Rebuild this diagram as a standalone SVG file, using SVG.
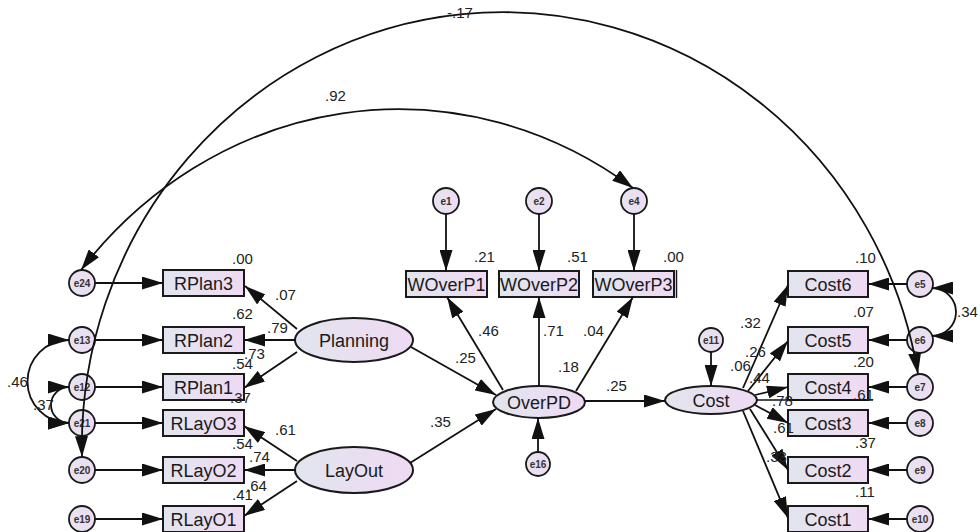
<svg xmlns="http://www.w3.org/2000/svg" width="980" height="532" viewBox="0 0 980 532">
<style>
.n{stroke:#1a1a1a;stroke-width:2;fill:url(#g)}
.c{stroke:#1a1a1a;stroke-width:1.8;fill:url(#gc)}
.t{font-family:"Liberation Sans",Arial,sans-serif;font-size:18px;fill:#1a1a1a;text-anchor:middle}
.et{font-family:"Liberation Sans",Arial,sans-serif;font-size:10px;font-weight:bold;fill:#333;text-anchor:middle}
.l{font-family:"Liberation Sans",Arial,sans-serif;font-size:15px;fill:#222}
.a{stroke:#111;stroke-width:1.8;fill:none;marker-end:url(#ah)}
.d{stroke:#111;stroke-width:1.8;fill:none;marker-start:url(#ah);marker-end:url(#ah)}
</style>
<defs>
<linearGradient id="g" x1="0" y1="0" x2="1" y2="0">
<stop offset="0" stop-color="#e1e5ee"/><stop offset="1" stop-color="#efdaf3"/>
</linearGradient>
<linearGradient id="gc" x1="0" y1="0" x2="1" y2="0">
<stop offset="0" stop-color="#e6e3f0"/><stop offset="1" stop-color="#eedcf2"/>
</linearGradient>
<marker id="ah" markerUnits="userSpaceOnUse" markerWidth="21" markerHeight="13" refX="21" refY="6.5" orient="auto-start-reverse">
<path d="M0,0 L21,6.5 L0,13 z" fill="#111"/>
</marker>
</defs>
<rect width="980" height="532" fill="#fff"/>

<g id="RPlan3"><rect class="n" x="163" y="270" width="81" height="26"/><text class="t" x="203.5" y="289.5">RPlan3</text></g>
<g id="RPlan2"><rect class="n" x="163" y="327" width="81" height="26"/><text class="t" x="203.5" y="346.5">RPlan2</text></g>
<g id="RPlan1"><rect class="n" x="163" y="374" width="81" height="26"/><text class="t" x="203.5" y="393.5">RPlan1</text></g>
<g id="RLayO3"><rect class="n" x="163" y="410" width="81" height="26"/><text class="t" x="203.5" y="429.5">RLayO3</text></g>
<g id="RLayO2"><rect class="n" x="163" y="457" width="81" height="26"/><text class="t" x="203.5" y="476.5">RLayO2</text></g>
<g id="RLayO1"><rect class="n" x="163" y="506" width="81" height="26"/><text class="t" x="203.5" y="525.5">RLayO1</text></g>

<g id="WOverP1"><rect class="n" x="406" y="271" width="81" height="26"/><text class="t" x="446.5" y="290.5">WOverP1</text></g>
<g id="WOverP2"><rect class="n" x="499" y="271" width="80" height="26"/><text class="t" x="539" y="290.5">WOverP2</text></g>
<g id="WOverP3"><rect class="n" x="593" y="271" width="81" height="26"/><line x1="676.5" y1="270" x2="676.5" y2="298" stroke="#1a1a1a" stroke-width="1.5"/><text class="t" x="633.5" y="290.5">WOverP3</text></g>

<g id="Cost6"><rect class="n" x="788" y="271" width="80" height="26"/><text class="t" x="828" y="290.5">Cost6</text></g>
<g id="Cost5"><rect class="n" x="788" y="327" width="80" height="26"/><text class="t" x="828" y="346.5">Cost5</text></g>
<g id="Cost4"><rect class="n" x="788" y="374" width="80" height="26"/><text class="t" x="828" y="393.5">Cost4</text></g>
<g id="Cost3"><rect class="n" x="788" y="410" width="80" height="26"/><text class="t" x="828" y="429.5">Cost3</text></g>
<g id="Cost2"><rect class="n" x="788" y="457" width="80" height="26"/><text class="t" x="828" y="476.5">Cost2</text></g>
<g id="Cost1"><rect class="n" x="788" y="506" width="80" height="26"/><text class="t" x="828" y="525.5">Cost1</text></g>

<g id="Planning"><ellipse class="n" cx="354" cy="340" rx="59" ry="22"/><text class="t" x="354" y="346.5">Planning</text></g>
<g id="LayOut"><ellipse class="n" cx="354" cy="470" rx="59" ry="23"/><text class="t" x="354" y="476.5">LayOut</text></g>
<g id="OverPD"><ellipse class="n" cx="539" cy="402" rx="46" ry="16"/><text class="t" x="539" y="408.5">OverPD</text></g>
<g id="Cost"><ellipse class="n" cx="711" cy="400" rx="46" ry="14"/><text class="t" x="711" y="406.5">Cost</text></g>

<g id="e24"><circle class="c" cx="82" cy="283" r="13"/><text class="et" x="82" y="286.5">e24</text></g>
<g id="e13"><circle class="c" cx="82" cy="340" r="13"/><text class="et" x="82" y="343.5">e13</text></g>
<g id="e12"><circle class="c" cx="82" cy="387" r="13"/><text class="et" x="82" y="390.5">e12</text></g>
<g id="e21"><circle class="c" cx="82" cy="423" r="13"/><text class="et" x="82" y="426.5">e21</text></g>
<g id="e20"><circle class="c" cx="82" cy="470" r="13"/><text class="et" x="82" y="473.5">e20</text></g>
<g id="e19"><circle class="c" cx="82" cy="519" r="13"/><text class="et" x="82" y="522.5">e19</text></g>
<g id="e1"><circle class="c" cx="446" cy="201" r="13"/><text class="et" x="446" y="204.5">e1</text></g>
<g id="e2"><circle class="c" cx="539" cy="201" r="13"/><text class="et" x="539" y="204.5">e2</text></g>
<g id="e4"><circle class="c" cx="634" cy="201" r="13"/><text class="et" x="634" y="204.5">e4</text></g>
<g id="e16"><circle class="c" cx="538" cy="464" r="12"/><text class="et" x="538" y="467.5">e16</text></g>
<g id="e11"><circle class="c" cx="711" cy="340" r="12"/><text class="et" x="711" y="343.5">e11</text></g>
<g id="e5"><circle class="c" cx="920" cy="284" r="13"/><text class="et" x="920" y="287.5">e5</text></g>
<g id="e6"><circle class="c" cx="920" cy="340" r="13"/><text class="et" x="920" y="343.5">e6</text></g>
<g id="e7"><circle class="c" cx="920" cy="387" r="13"/><text class="et" x="920" y="390.5">e7</text></g>
<g id="e8"><circle class="c" cx="920" cy="423" r="13"/><text class="et" x="920" y="426.5">e8</text></g>
<g id="e9"><circle class="c" cx="920" cy="470" r="13"/><text class="et" x="920" y="473.5">e9</text></g>
<g id="e10"><circle class="c" cx="920" cy="519" r="13"/><text class="et" x="920" y="522.5">e10</text></g>

<g id="connectors">
<path class="a" d="M95,283 H163"/>
<path class="a" d="M95,340 H163"/>
<path class="a" d="M95,387 H163"/>
<path class="a" d="M95,423 H163"/>
<path class="a" d="M95,470 H163"/>
<path class="a" d="M95,519 H163"/>
<path class="a" d="M907,284 H868"/>
<path class="a" d="M907,340 H868"/>
<path class="a" d="M907,387 H868"/>
<path class="a" d="M907,423 H868"/>
<path class="a" d="M907,470 H868"/>
<path class="a" d="M907,519 H868"/>
<path class="a" d="M446,214 V271"/>
<path class="a" d="M539,214 V271"/>
<path class="a" d="M634,214 V271"/>
<path class="a" d="M538,452 V418"/>
<path class="a" d="M711,352 V386"/>
<path class="a" d="M297,329 L245,286"/>
<path class="a" d="M295,340 L244,340"/>
<path class="a" d="M297,352 L244,388"/>
<path class="a" d="M297,461 L244,426"/>
<path class="a" d="M295,470 L244,470"/>
<path class="a" d="M297,481 L244,516"/>
<path class="a" d="M411,347 L496,395"/>
<path class="a" d="M410,463 L496,409"/>
<path class="a" d="M503,390 L447,297"/>
<path class="a" d="M539,386 L539,297"/>
<path class="a" d="M576,391 L633,297"/>
<path class="a" d="M585,401 L665,401"/>
<path class="a" d="M743,388 L788,285"/>
<path class="a" d="M748,391 L788,341"/>
<path class="a" d="M755,395 L788,387"/>
<path class="a" d="M755,405 L788,423"/>
<path class="a" d="M750,409 L788,470"/>
<path class="a" d="M743,411 L788,518"/>
<path d="M757,400 H873" stroke="#111" stroke-width="1.5" fill="none"/>
<path class="d" d="M932,288 A 24 24 0 0 1 932,336"/>
<path class="d" d="M69,340 A 41.5 41.5 0 0 0 69,423"/>
<path class="d" d="M69,387 A 18 18 0 0 0 69,423"/>
<path class="d" d="M82,457 A 421 434 0 0 1 918,374"/>
<path class="d" d="M81,270 A 415 451 0 0 1 633,188"/>
</g>

<g id="labels" class="l">
<text x="447" y="18">-.17</text>
<text x="325" y="101">.92</text>
<text x="474" y="262">.21</text>
<text x="567" y="262">.51</text>
<text x="663" y="262">.00</text>
<text x="478" y="336">.46</text>
<text x="543" y="336">.71</text>
<text x="583" y="336">.04</text>
<text x="455" y="363">.25</text>
<text x="558" y="372">.18</text>
<text x="606" y="391">.25</text>
<text x="430" y="427">.35</text>
<text x="232" y="264">.00</text>
<text x="275" y="300">.07</text>
<text x="232" y="319">.62</text>
<text x="267" y="333">.79</text>
<text x="244" y="359">.73</text>
<text x="232" y="369">.54</text>
<text x="230" y="403">.37</text>
<text x="275" y="435">.61</text>
<text x="232" y="449">.54</text>
<text x="249" y="462">.74</text>
<text x="246" y="491">.64</text>
<text x="232" y="500">.41</text>
<text x="7" y="387">.46</text>
<text x="33" y="410">.37</text>
<text x="855" y="263">.10</text>
<text x="740" y="328">.32</text>
<text x="853" y="317">.07</text>
<text x="745" y="357">.26</text>
<text x="853" y="367">.20</text>
<text x="730" y="371">.06</text>
<text x="749" y="383">.44</text>
<text x="772" y="406">.78</text>
<text x="853" y="400">.61</text>
<text x="773" y="433">.61</text>
<text x="855" y="448">.37</text>
<text x="766" y="462">.33</text>
<text x="855" y="497">.11</text>
<text x="957" y="317">.34</text>
</g>
</svg>
